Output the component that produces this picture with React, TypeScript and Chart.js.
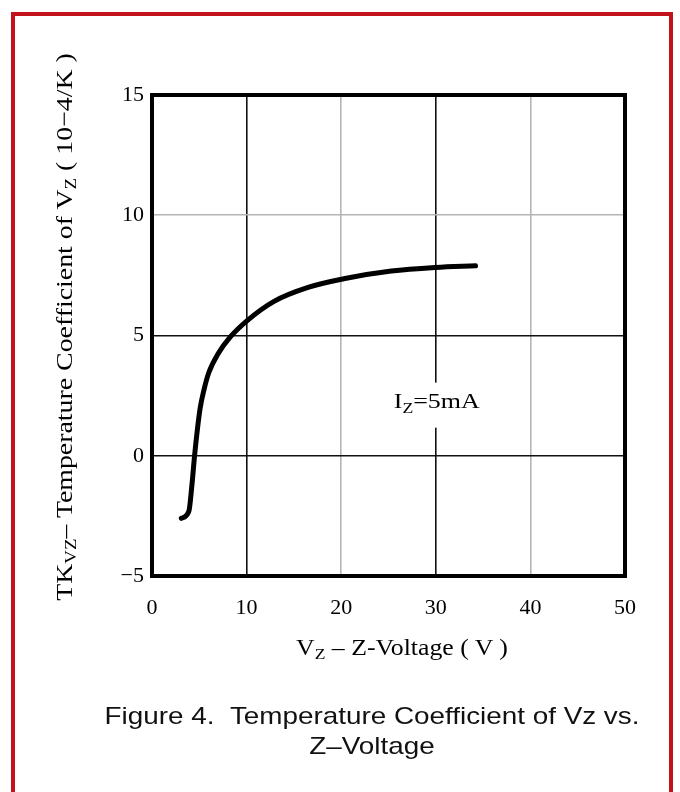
import React, { useEffect, useRef } from 'react';
import { Chart, registerables } from 'chart.js';

Chart.register(...registerables);

// ---- data ----
const voltage = [3.1, 3.9, 4.2, 4.5, 4.8, 5.1, 5.5, 6.0, 7.0, 8.3, 10.0, 12.9, 16.5, 20.4, 25.3, 30.0, 34.2];
const tempCoeff = [-2.6, -2.3, -1.3, 0.0, 1.1, 2.0, 2.75, 3.45, 4.25, 4.95, 5.6, 6.42, 7.0, 7.37, 7.68, 7.83, 7.9];
const xTickLabels = ['0', '10', '20', '30', '40', '50'];
const yTickLabels = ['\u22125', '0', '5', '10', '15'];
const darkXGrid = [10, 30];
const darkYGrid = [0, 5];
const annotationMain = 'I';
const annotationSub = 'Z';
const annotationRest = '=5mA';
const annotationX = 30.1;
const annotationY = 2.0;

const SERIF = '"Liberation Serif", "Times New Roman", serif';
const SANS = '"Liberation Sans", Arial, sans-serif';

export default function App() {
  const ref = useRef<HTMLCanvasElement>(null);

  useEffect(() => {
    if (!ref.current) return;

    const framePlugin = {
      id: 'frameAndLabel',
      afterDraw(chart: any) {
        const { ctx, chartArea, scales } = chart;
        ctx.save();
        const px = scales.x.getPixelForValue(annotationX);
        const py = scales.y.getPixelForValue(annotationY);
        const stretch = 1.18;
        ctx.font = `22px ${SERIF}`;
        const w1 = ctx.measureText(annotationMain).width;
        const w3 = ctx.measureText(annotationRest).width;
        ctx.font = `15px ${SERIF}`;
        const w2 = ctx.measureText(annotationSub).width;
        const total = (w1 + w2 + w3) * stretch;
        // white background interrupting the grid line
        ctx.fillStyle = '#ffffff';
        ctx.fillRect(px - total / 2 - 4, py - 25, total + 8, 45);
        ctx.translate(px - total / 2, py);
        ctx.scale(stretch, 1);
        ctx.fillStyle = '#000000';
        ctx.textBaseline = 'alphabetic';
        ctx.textAlign = 'left';
        ctx.font = `22px ${SERIF}`;
        ctx.fillText(annotationMain, 0, 0);
        ctx.font = `15px ${SERIF}`;
        ctx.fillText(annotationSub, w1, 5);
        ctx.font = `22px ${SERIF}`;
        ctx.fillText(annotationRest, w1 + w2, 0);
        ctx.setTransform(1, 0, 0, 1, 0, 0);

        // thick plot frame
        ctx.strokeStyle = '#000000';
        ctx.lineWidth = 4;
        ctx.strokeRect(chartArea.left, chartArea.top, chartArea.right - chartArea.left, chartArea.bottom - chartArea.top);
        ctx.restore();
      },
    };

    const chart = new Chart(ref.current, {
      type: 'line',
      data: {
        datasets: [
          {
            data: voltage.map((v, i) => ({ x: v, y: tempCoeff[i] })),
            borderColor: '#000000',
            borderWidth: 5,
            pointRadius: 0,
            cubicInterpolationMode: 'monotone',
            borderCapStyle: 'round',
            borderJoinStyle: 'round',
            fill: false,
          },
        ],
      },
      options: {
        animation: false,
        responsive: false,
        devicePixelRatio: 1,
        layout: { padding: { left: 0, top: 95, right: 55, bottom: 176 } },
        plugins: { legend: { display: false }, tooltip: { enabled: false } },
        scales: {
          x: {
            type: 'linear',
            min: 0,
            max: 50,
            ticks: {
              stepSize: 10,
              autoSkip: false,
              maxRotation: 0,
              padding: 19,
              color: '#000000',
              font: { family: SERIF, size: 22 },
              callback: (_v: any, i: number) => xTickLabels[i],
            },
            grid: {
              drawTicks: false,
              lineWidth: 1.6,
              color: (c: any) => (darkXGrid.includes(c.tick?.value) ? '#111111' : '#b4b4b4'),
            },
            border: { display: false },
            afterFit: (s: any) => {
              s.height = 40;
            },
          },
          y: {
            type: 'linear',
            min: -5,
            max: 15,
            ticks: {
              stepSize: 5,
              autoSkip: false,
              padding: 8,
              color: '#000000',
              font: { family: SERIF, size: 22 },
              callback: (_v: any, i: number) => yTickLabels[i],
            },
            grid: {
              drawTicks: false,
              lineWidth: 1.6,
              color: (c: any) => (darkYGrid.includes(c.tick?.value) ? '#111111' : '#b4b4b4'),
            },
            border: { display: false },
            afterFit: (s: any) => {
              s.width = 152;
            },
          },
        },
      },
      plugins: [framePlugin],
    } as any);

    return () => chart.destroy();
  }, []);

  const sub: React.CSSProperties = { fontSize: '0.68em', verticalAlign: '-0.28em' };

  return (
    <div style={{ position: 'absolute', left: 0, top: 0, width: 680, height: 792, background: '#ffffff', overflow: 'hidden' }}>
      <canvas ref={ref} width={680} height={792} style={{ position: 'absolute', left: 0, top: 0, display: 'block' }} />
      <div
        style={{
          position: 'absolute',
          left: 11,
          top: 12,
          width: 662,
          height: 820,
          boxSizing: 'border-box',
          borderTop: '4px solid #c4121c',
          borderLeft: '4px solid #c4121c',
          borderRight: '4px solid #c4121c',
          pointerEvents: 'none',
        }}
      />
      <div
        style={{
          position: 'absolute',
          left: 66,
          top: 327,
          transform: 'translate(-50%, -50%) rotate(-90deg) scaleX(1.16)',
          whiteSpace: 'nowrap',
          fontFamily: SERIF,
          fontSize: 24,
          color: '#000000',
        }}
      >
        TK<span style={sub}>VZ</span>{'\u2013 '}Temperature Coefficient of V<span style={sub}>Z</span> ( 10{'\u2212'}4/K )
      </div>
      <div
        style={{
          position: 'absolute',
          left: 402,
          top: 649,
          transform: 'translate(-50%, -50%) scaleX(1.12)',
          whiteSpace: 'nowrap',
          fontFamily: SERIF,
          fontSize: 23,
          color: '#000000',
        }}
      >
        V<span style={sub}>Z</span> {'\u2013'} Z-Voltage ( V )
      </div>
      <div
        style={{
          position: 'absolute',
          left: 372,
          top: 701,
          transform: 'translateX(-50%) scaleX(1.16)',
          whiteSpace: 'nowrap',
          textAlign: 'center',
          fontFamily: SANS,
          fontSize: 24,
          lineHeight: '30px',
          color: '#111111',
        }}
      >
        Figure 4.{'\u00a0\u00a0'}Temperature Coefficient of Vz vs.
        <br />
        Z{'\u2013'}Voltage
      </div>
    </div>
  );
}
